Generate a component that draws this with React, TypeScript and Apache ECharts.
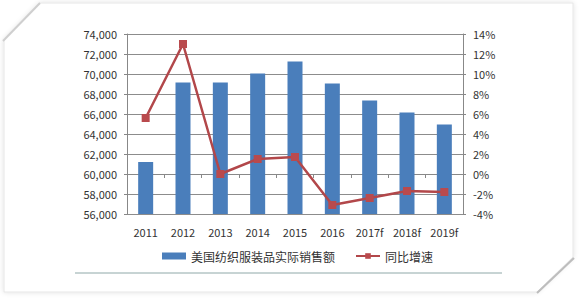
import React, { useEffect, useRef } from "react";
import * as echarts from "echarts";

const categories = ["2011", "2012", "2013", "2014", "2015", "2016", "2017f", "2018f", "2019f"];
const salesValues = [61200, 69150, 69150, 70050, 71250, 69050, 67350, 66150, 64950];
const growthValues = [5.6, 13.0, 0.0, 1.5, 1.7, -3.1, -2.4, -1.7, -1.8];
const salesName = "美国纺织服装品实际销售额";
const growthName = "同比增速";

export default function App() {
  const ref = useRef<HTMLDivElement>(null);
  useEffect(() => {
    const chart = echarts.init(ref.current!, null, { renderer: "svg" });
    const font = "'Noto Sans CJK SC', 'DejaVu Sans', sans-serif";
    chart.setOption({
      animation: false,
      backgroundColor: "#ffffff",
      textStyle: { fontFamily: font },
      graphic: [
        {
          type: "polygon",
          z: -10,
          silent: true,
          shape: {
            points: [
              [4, 40], [40, 3], [573, 3], [573, 257], [537, 292], [4, 292],
            ],
          },
          style: {
            fill: "#ffffff",
            stroke: "#e6e6e6",
            lineWidth: 1,
            shadowBlur: 5,
            shadowColor: "rgba(0,0,0,0.12)",
          },
        },
        {
          type: "line",
          silent: true,
          shape: { x1: 3, y1: 41, x2: 40, y2: 3 },
          style: { stroke: "#cfcfcf", lineWidth: 2 },
        },
        {
          type: "line",
          silent: true,
          shape: { x1: 574, y1: 258, x2: 537, y2: 293 },
          style: { stroke: "#bdbdbd", lineWidth: 2 },
        },
        {
          type: "line",
          silent: true,
          shape: { x1: 75, y1: 273, x2: 502, y2: 273 },
          style: { stroke: "#8fa8a8", lineWidth: 1 },
        },
      ],
      grid: { left: 127, right: 117, top: 34, bottom: 91, containLabel: false },
      legend: {
        bottom: 38,
        left: 157,
        itemGap: 20,
        itemWidth: 24,
        itemHeight: 7,
        textStyle: { fontSize: 12, color: "#333", fontFamily: font },
        data: [
          { name: salesName, icon: "rect" },
          { name: growthName },
        ],
      },
      xAxis: {
        type: "category",
        data: categories,
        axisLine: { lineStyle: { color: "#888" } },
        axisTick: { show: true, length: 4, lineStyle: { color: "#888" } },
        axisLabel: { fontSize: 11, color: "#333", margin: 12 },
      },
      yAxis: [
        {
          type: "value",
          min: 56000,
          max: 74000,
          interval: 2000,
          axisLine: { show: true, lineStyle: { color: "#888" } },
          axisTick: { show: true, length: 3, lineStyle: { color: "#888" } },
          splitLine: { lineStyle: { color: "#8c8c8c" } },
          axisLabel: {
            fontSize: 11,
            color: "#333",
            margin: 10,
            formatter: (v: number) => v.toLocaleString("en-US"),
          },
        },
        {
          type: "value",
          min: -4,
          max: 14,
          interval: 2,
          position: "right",
          axisLine: { show: true, lineStyle: { color: "#888" } },
          axisTick: { show: true, length: 3, lineStyle: { color: "#888" } },
          splitLine: { show: false },
          axisLabel: { fontSize: 11, color: "#333", margin: 10, formatter: "{value}%" },
        },
      ],
      series: [
        {
          name: salesName,
          type: "bar",
          data: salesValues,
          barWidth: 15,
          itemStyle: { color: "#4a7ebb" },
        },
        {
          name: growthName,
          type: "line",
          yAxisIndex: 1,
          data: growthValues,
          symbol: "rect",
          symbolSize: 8,
          lineStyle: { color: "#b2474a", width: 2.5 },
          itemStyle: { color: "#b94a4d" },
        },
      ],
    });
    return () => chart.dispose();
  }, []);
  return <div ref={ref} style={{ width: 580, height: 305, position: "absolute", left: 0, top: 0 }} />;
}
